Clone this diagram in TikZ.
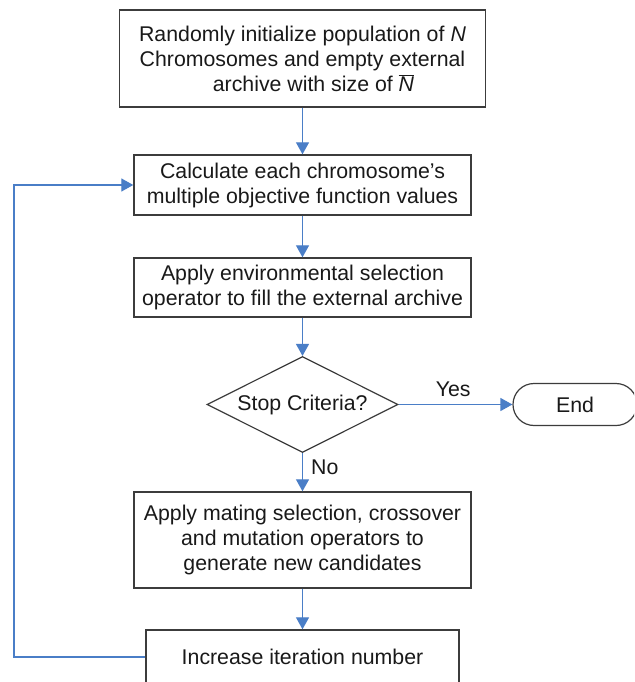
\documentclass[tikz,border=0pt]{standalone}
\usepackage{fontspec}
\setmainfont{Liberation Sans}
\usetikzlibrary{shapes.geometric,shapes.misc,arrows.meta}
\definecolor{arrowblue}{HTML}{4A7EC7}
\definecolor{boxgray}{HTML}{3C3C3C}
\begin{document}
\begin{tikzpicture}[x=1pt,y=-1pt,
  every node/.style={font=\fontsize{21.3}{25}\selectfont, text=black!90},
  procbox/.style={draw=boxgray, line width=1.4pt, rectangle, align=center, inner sep=0pt, fill=white},
  decision/.style={draw=boxgray, line width=1.2pt, diamond, aspect=2, inner sep=0pt, fill=white},
  terminal/.style={draw=boxgray, line width=1.2pt, rounded rectangle, inner sep=0pt, fill=white},
  flow/.style={draw=arrowblue, line width=1.3pt, -{Triangle[width=13pt,length=12pt]}},
  lbl/.style={inner sep=0pt}]
\useasboundingbox (0,0) rectangle (634,682);
\clip (0,0) rectangle (634,682);
\fill[white] (0,0) rectangle (634,682);

\node[procbox, minimum width=366pt, minimum height=97pt] (b1) at (302.5,58.5)
  {Randomly initialize population of \textit{N}\\
   Chromosomes and empty external\\
   \hspace*{22pt}archive with size of $\overline{\mathit{N}}$};
\node[procbox, minimum width=337pt, minimum height=60pt] (b2) at (302.5,185)
  {Calculate each chromosome’s\\multiple objective function values};
\node[procbox, minimum width=337pt, minimum height=59pt] (b3) at (302.5,287.5)
  {Apply environmental selection\\operator to fill the external archive};
\node[decision, minimum width=191pt, minimum height=96pt] (d) at (302.5,404.5)
  {Stop Criteria?};
\node[terminal, minimum width=124pt, minimum height=42pt] (end) at (575,404.5)
  {End};
\node[procbox, minimum width=337pt, minimum height=96pt] (b4) at (302.5,540)
  {Apply mating selection, crossover\\and mutation operators to\\generate new candidates};
\node[procbox, minimum width=313pt, minimum height=54pt] (b5) at (302.5,657)
  {Increase iteration number};
\coordinate (loopx) at (14,0);

\draw[flow] (b1.south) -- (b2.north);
\draw[flow] (b2.south) -- (b3.north);
\draw[flow] (b3.south) -- (d.north);
\draw[flow] (d.east) -- node[lbl, above=7pt, pos=0.48] {Yes} (end.west);
\draw[flow] (d.south) -- node[lbl, right=8pt, pos=0.38] {No} (b4.north);
\draw[flow] (b4.south) -- (b5.north);
\draw[flow] (b5.west) -| (loopx |- b2.west) -- (b2.west);
\end{tikzpicture}
\end{document}
